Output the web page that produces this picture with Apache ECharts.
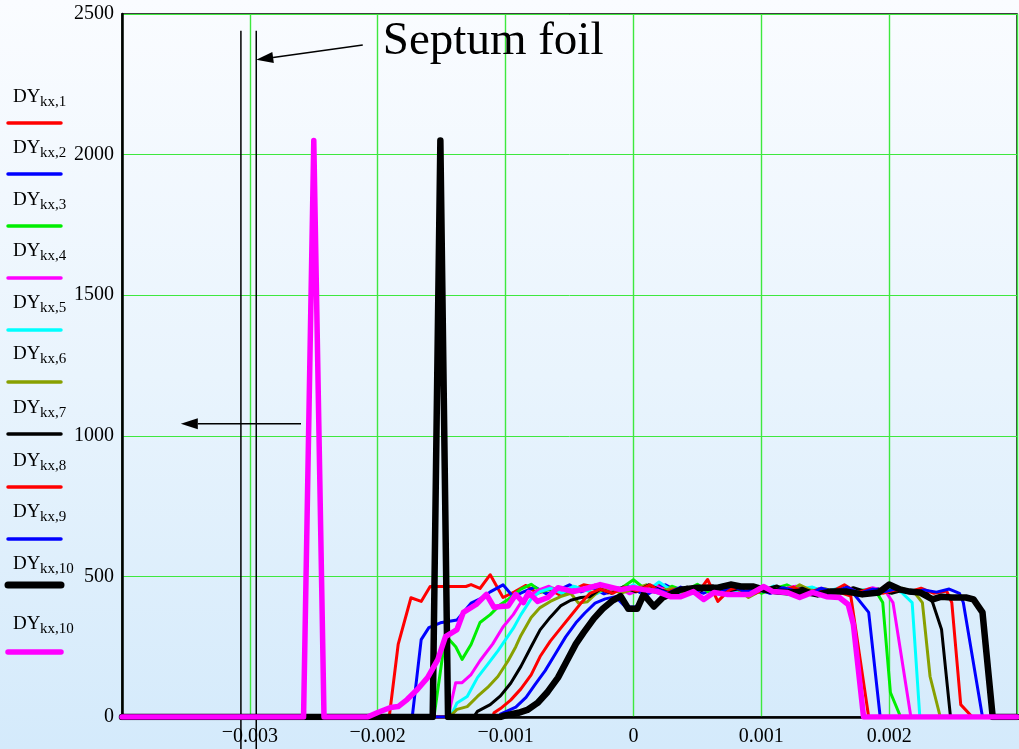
<!DOCTYPE html>
<html><head><meta charset="utf-8">
<script src="https://cdn.jsdelivr.net/npm/echarts@6/dist/echarts.min.js"></script>
<style>
html,body{margin:0;padding:0;width:1019px;height:749px;overflow:hidden;}
body{background:linear-gradient(to bottom,#fafcff 0%,#e9f4fd 50%,#d4eafb 100%);}
#c{width:1019px;height:749px;}
</style></head><body><div id="c"></div>
<script>
// ---------- DATA ----------
const seriesSubs = ['kx,1','kx,2','kx,3','kx,4','kx,5','kx,6','kx,7','kx,8','kx,9','kx,10','kx,10'];
const seriesColors = ['#ff0000','#0000ff','#00ee00','#ff00ff','#00ffff','#88a000','#000000','#ff0000','#0000ff','#000000','#ff00ff'];

const dy1 = [[-4e-3,0],[-1.91e-3,0],[-1.84e-3,258],[-1.74e-3,424],[-1.66e-3,411],[-1.59e-3,464],[-1.45e-3,464],[-1.31e-3,464],[-1.27e-3,471],[-1.20e-3,457],[-1.12e-3,506],[-1.02e-3,425],[-0.93e-3,445],[-0.84e-3,468],[-0.75e-3,440],[-0.66e-3,455],[-0.57e-3,432],[-0.48e-3,450],[-0.39e-3,470],[-0.30e-3,462],[-0.20e-3,441],[-0.10e-3,455],[0,465],[0.10e-3,448],[0.20e-3,470],[0.30e-3,452],[0.40e-3,440],[0.50e-3,462],[0.60e-3,468],[0.70e-3,445],[0.80e-3,458],[0.90e-3,440],[1.00e-3,452],[1.10e-3,463],[1.20e-3,445],[1.30e-3,458],[1.40e-3,436],[1.50e-3,450],[1.60e-3,445],[1.70e-3,430],[1.84e-3,0],[3e-3,0]];
const dy2 = [[-4e-3,0],[-1.73e-3,0],[-1.66e-3,275],[-1.60e-3,318],[-1.51e-3,335],[-1.38e-3,345],[-1.27e-3,405],[-1.20e-3,420],[-1.12e-3,445],[-1.02e-3,470],[-0.94e-3,428],[-0.86e-3,445],[-0.77e-3,462],[-0.68e-3,438],[-0.59e-3,450],[-0.50e-3,470],[-0.41e-3,445],[-0.32e-3,460],[-0.23e-3,438],[-0.14e-3,452],[-0.05e-3,467],[0.05e-3,443],[0.15e-3,458],[0.25e-3,470],[0.35e-3,446],[0.45e-3,455],[0.55e-3,440],[0.65e-3,462],[0.75e-3,448],[0.85e-3,466],[0.95e-3,442],[1.05e-3,457],[1.15e-3,444],[1.25e-3,462],[1.35e-3,448],[1.45e-3,455],[1.55e-3,438],[1.65e-3,452],[1.72e-3,440],[1.84e-3,372],[1.93e-3,0],[3e-3,0]];
const dy3 = [[-4e-3,0],[-1.56e-3,0],[-1.47e-3,290],[-1.39e-3,250],[-1.34e-3,205],[-1.27e-3,258],[-1.20e-3,336],[-1.12e-3,364],[-1.04e-3,400],[-0.98e-3,418],[-0.88e-3,455],[-0.80e-3,472],[-0.72e-3,445],[-0.63e-3,458],[-0.54e-3,440],[-0.45e-3,462],[-0.36e-3,450],[-0.27e-3,468],[-0.18e-3,445],[-0.09e-3,460],[0,488],[0.10e-3,452],[0.20e-3,440],[0.30e-3,465],[0.40e-3,448],[0.50e-3,472],[0.60e-3,440],[0.70e-3,455],[0.80e-3,445],[0.90e-3,462],[1.00e-3,440],[1.10e-3,456],[1.20e-3,470],[1.30e-3,448],[1.40e-3,460],[1.50e-3,442],[1.60e-3,455],[1.70e-3,446],[1.80e-3,452],[1.90e-3,445],[1.95e-3,407],[2.01e-3,87],[2.09e-3,0],[3e-3,0]];
const dy4 = [[-4e-3,0],[-1.45e-3,0],[-1.39e-3,122],[-1.34e-3,122],[-1.27e-3,151],[-1.20e-3,200],[-1.10e-3,260],[-1.02e-3,320],[-0.94e-3,364],[-0.88e-3,407],[-0.82e-3,428],[-0.75e-3,450],[-0.66e-3,465],[-0.57e-3,442],[-0.48e-3,458],[-0.39e-3,448],[-0.30e-3,470],[-0.21e-3,445],[-0.12e-3,460],[-0.03e-3,438],[0.07e-3,455],[0.17e-3,468],[0.27e-3,445],[0.37e-3,458],[0.47e-3,440],[0.57e-3,462],[0.67e-3,450],[0.77e-3,468],[0.87e-3,446],[0.97e-3,458],[1.07e-3,440],[1.17e-3,455],[1.27e-3,465],[1.37e-3,445],[1.47e-3,458],[1.57e-3,440],[1.67e-3,452],[1.77e-3,446],[1.87e-3,460],[1.97e-3,448],[2.03e-3,407],[2.17e-3,0],[3e-3,0]];
const dy5 = [[-4e-3,0],[-1.43e-3,0],[-1.38e-3,50],[-1.30e-3,73],[-1.22e-3,140],[-1.14e-3,187],[-1.06e-3,235],[-1.00e-3,275],[-0.94e-3,315],[-0.88e-3,364],[-0.80e-3,420],[-0.73e-3,446],[-0.65e-3,458],[-0.56e-3,440],[-0.47e-3,465],[-0.38e-3,452],[-0.29e-3,438],[-0.20e-3,460],[-0.10e-3,448],[0,470],[0.10e-3,445],[0.20e-3,480],[0.30e-3,450],[0.40e-3,438],[0.50e-3,460],[0.60e-3,452],[0.70e-3,470],[0.80e-3,443],[0.90e-3,458],[1.00e-3,446],[1.10e-3,466],[1.20e-3,440],[1.30e-3,455],[1.40e-3,462],[1.50e-3,445],[1.60e-3,458],[1.70e-3,440],[1.80e-3,452],[1.90e-3,446],[2.00e-3,460],[2.10e-3,442],[2.18e-3,407],[2.24e-3,0],[3e-3,0]];
const dy6 = [[-4e-3,0],[-1.44e-3,0],[-1.38e-3,27],[-1.30e-3,37],[-1.22e-3,73],[-1.14e-3,105],[-1.06e-3,144],[-0.98e-3,200],[-0.92e-3,250],[-0.88e-3,290],[-0.80e-3,354],[-0.73e-3,389],[-0.65e-3,411],[-0.57e-3,428],[-0.49e-3,440],[-0.43e-3,405],[-0.36e-3,410],[-0.28e-3,445],[-0.19e-3,460],[-0.10e-3,440],[0,455],[0.10e-3,470],[0.20e-3,445],[0.30e-3,458],[0.40e-3,440],[0.50e-3,450],[0.60e-3,466],[0.70e-3,444],[0.80e-3,460],[0.90e-3,425],[1.00e-3,450],[1.10e-3,462],[1.20e-3,440],[1.30e-3,470],[1.40e-3,448],[1.50e-3,456],[1.60e-3,440],[1.70e-3,450],[1.80e-3,438],[1.90e-3,452],[2.00e-3,444],[2.10e-3,458],[2.20e-3,442],[2.26e-3,407],[2.32e-3,144],[2.40e-3,0],[3e-3,0]];
const dy7 = [[-4e-3,0],[-1.25e-3,0],[-1.22e-3,20],[-1.12e-3,44],[-1.04e-3,75],[-0.96e-3,120],[-0.88e-3,180],[-0.80e-3,250],[-0.73e-3,310],[-0.65e-3,355],[-0.57e-3,395],[-0.49e-3,415],[-0.41e-3,425],[-0.34e-3,428],[-0.26e-3,455],[-0.17e-3,440],[-0.08e-3,462],[0.02e-3,445],[0.12e-3,470],[0.22e-3,450],[0.32e-3,440],[0.42e-3,462],[0.52e-3,448],[0.62e-3,466],[0.72e-3,444],[0.82e-3,456],[0.92e-3,440],[1.02e-3,452],[1.12e-3,466],[1.22e-3,445],[1.32e-3,458],[1.42e-3,440],[1.52e-3,452],[1.62e-3,444],[1.72e-3,460],[1.82e-3,446],[1.92e-3,455],[2.02e-3,440],[2.12e-3,452],[2.22e-3,444],[2.30e-3,440],[2.34e-3,407],[2.41e-3,311],[2.48e-3,0],[3e-3,0]];
const dy8 = [[-4e-3,0],[-1.10e-3,0],[-1.09e-3,15],[-1.04e-3,30],[-0.96e-3,60],[-0.88e-3,100],[-0.80e-3,150],[-0.73e-3,215],[-0.65e-3,270],[-0.57e-3,315],[-0.49e-3,360],[-0.41e-3,405],[-0.34e-3,440],[-0.26e-3,455],[-0.16e-3,440],[-0.07e-3,462],[0.03e-3,448],[0.13e-3,470],[0.23e-3,440],[0.33e-3,455],[0.43e-3,446],[0.50e-3,440],[0.58e-3,489],[0.66e-3,411],[0.75e-3,452],[0.85e-3,466],[0.95e-3,440],[1.05e-3,458],[1.15e-3,446],[1.25e-3,462],[1.35e-3,440],[1.45e-3,455],[1.55e-3,445],[1.65e-3,470],[1.75e-3,442],[1.85e-3,456],[1.95e-3,440],[2.05e-3,452],[2.15e-3,444],[2.25e-3,458],[2.35e-3,440],[2.45e-3,448],[2.49e-3,407],[2.56e-3,44],[2.65e-3,0],[3e-3,0]];
const dy9 = [[-4e-3,0],[-1.05e-3,0],[-1.04e-3,10],[-0.92e-3,35],[-0.84e-3,70],[-0.77e-3,115],[-0.69e-3,165],[-0.61e-3,225],[-0.53e-3,285],[-0.45e-3,335],[-0.38e-3,370],[-0.30e-3,405],[-0.22e-3,420],[-0.14e-3,428],[-0.06e-3,390],[0.02e-3,392],[0.09e-3,430],[0.18e-3,455],[0.27e-3,440],[0.37e-3,462],[0.47e-3,445],[0.57e-3,458],[0.67e-3,440],[0.77e-3,468],[0.87e-3,446],[0.97e-3,455],[1.07e-3,440],[1.17e-3,460],[1.27e-3,448],[1.37e-3,436],[1.47e-3,458],[1.57e-3,444],[1.67e-3,462],[1.77e-3,440],[1.87e-3,455],[1.97e-3,446],[2.07e-3,458],[2.17e-3,440],[2.27e-3,452],[2.37e-3,444],[2.47e-3,455],[2.55e-3,440],[2.58e-3,407],[2.73e-3,0],[3e-3,0]];
const dy10 = [[-4e-3,0],[-1.57e-3,0],[-1.51e-3,2050],[-1.45e-3,0],[-1.04e-3,0],[-1.01e-3,5],[-0.90e-3,15],[-0.83e-3,25],[-0.75e-3,50],[-0.67e-3,90],[-0.59e-3,140],[-0.52e-3,200],[-0.45e-3,260],[-0.39e-3,300],[-0.31e-3,350],[-0.24e-3,385],[-0.16e-3,415],[-0.10e-3,430],[-0.04e-3,385],[0.03e-3,385],[0.08e-3,436],[0.16e-3,393],[0.23e-3,425],[0.37e-3,453],[0.50e-3,460],[0.66e-3,460],[0.76e-3,471],[0.84e-3,464],[0.94e-3,464],[1.02e-3,453],[1.13e-3,446],[1.23e-3,443],[1.33e-3,446],[1.44e-3,436],[1.54e-3,446],[1.67e-3,446],[1.79e-3,436],[1.92e-3,443],[2.00e-3,471],[2.09e-3,453],[2.16e-3,446],[2.24e-3,443],[2.34e-3,418],[2.41e-3,428],[2.49e-3,425],[2.60e-3,425],[2.66e-3,418],[2.73e-3,372],[2.81e-3,0],[3e-3,0]];
const dy10b = [[-4e-3,0],[-2.58e-3,0],[-2.50e-3,2050],[-2.42e-3,0],[-2.08e-3,0],[-2.00e-3,16],[-1.90e-3,34],[-1.84e-3,37],[-1.77e-3,62],[-1.69e-3,98],[-1.61e-3,140],[-1.53e-3,204],[-1.47e-3,286],[-1.38e-3,311],[-1.33e-3,372],[-1.23e-3,400],[-1.15e-3,436],[-1.09e-3,390],[-1.04e-3,393],[-0.98e-3,395],[-0.92e-3,436],[-0.86e-3,407],[-0.82e-3,443],[-0.75e-3,411],[-0.67e-3,425],[-0.59e-3,460],[-0.47e-3,446],[-0.31e-3,464],[-0.26e-3,471],[-0.10e-3,453],[0,460],[0.08e-3,453],[0.19e-3,446],[0.29e-3,428],[0.37e-3,428],[0.47e-3,446],[0.55e-3,418],[0.63e-3,443],[0.73e-3,436],[0.84e-3,436],[0.91e-3,436],[1.02e-3,464],[1.09e-3,446],[1.20e-3,443],[1.30e-3,425],[1.40e-3,443],[1.51e-3,428],[1.61e-3,425],[1.68e-3,400],[1.72e-3,330],[1.80e-3,0],[3e-3,0]];

const seriesData = [dy1,dy2,dy3,dy4,dy5,dy6,dy7,dy8,dy9,dy10,dy10b];

const xTickValues = [-0.003,-0.002,-0.001,0,0.001,0.002];
const xTickLabels = ['\u22120.003','\u22120.002','\u22120.001','0','0.001','0.002'];
const yTickLabels = ['0','500','1000','1500','2000','2500'];

// annotation anchors (data coordinates)
const septumX = [-0.00307, -0.00295];
const septumTopY = 2440;
const septumText = 'Septum foil';
const septumTextPos = [-0.00196, 2400];
const arrow1 = {from: [-0.002117, 2390], to: [-0.00295, 2337]};
const arrow2 = {from: [-0.00260, 1043], to: [-0.00354, 1043]};

// ---------- STYLE ----------
const serif = '"Liberation Serif","Times New Roman",serif';
const gridGreen = '#3ee83e';
const lineWidths = [3,3,3,3,3,3,3,3,3,6.5,5.5];
const legendLabelY = [97,148,200,251,303,354,408,461,512,564,624];
const legendLineY = [123,174,226,278,330,382,434,487,539,585,652];
const legendLineW = [3.5,3.5,3.5,3.5,3.5,3.5,3.5,3.5,3.5,7,5.5];

const chart = echarts.init(document.getElementById('c'), null, {renderer:'canvas'});

const series = seriesData.map((d,i)=>({
  type:'line', name:'DY'+seriesSubs[i], data:d, symbol:'none', showSymbol:false,
  lineStyle:{color:seriesColors[i], width:lineWidths[i], join:'round', cap:'round'},
  animation:false, silent:true
}));

chart.setOption({
  backgroundColor:'transparent',
  animation:false,
  grid:{left:122,right:2,top:14,bottom:32,outerBoundsMode:'none',containLabel:false,show:true,borderColor:'#000',borderWidth:1.5,backgroundColor:'transparent'},
  xAxis:{type:'value',min:-0.004,max:0.003,interval:0.001,
    axisLine:{onZero:false,lineStyle:{color:'#000',width:2.5}},
    axisTick:{show:false},
    splitLine:{show:true,lineStyle:{color:gridGreen,width:1.4}},
    axisLabel:{showMinLabel:false,showMaxLabel:false,margin:6,color:'#000',
      formatter:function(v){
        let best=-1,bd=1;
        xTickValues.forEach((t,k)=>{const dd=Math.abs(t-v); if(dd<bd){bd=dd;best=k;}});
        if(best<0||bd>1e-6) return '';
        const s=xTickLabels[best];
        if(s.charAt(0)==='\u2212') return '{m|\u2212}{n|'+s.slice(1)+'}';
        return '{n|'+s+'}';
      },
      rich:{
        m:{fontFamily:serif,fontSize:20,color:'#000',verticalAlign:'top',lineHeight:20},
        n:{fontFamily:serif,fontSize:20,color:'#000',lineHeight:20,padding:[8,0,0,0]}
      }
    }
  },
  yAxis:{type:'value',min:0,max:2500,interval:500,
    axisLine:{show:true,onZero:false,lineStyle:{color:'#000',width:2.5}},
    axisTick:{show:false},
    splitLine:{show:true,lineStyle:{color:gridGreen,width:1}},
    axisLabel:{color:'#000',fontFamily:serif,fontSize:20,margin:8,padding:[5,0,0,0],
      formatter:function(v){const k=Math.round(v/500); return yTickLabels[k]||'';}}
  },
  series:series
});

function px(p){return chart.convertToPixel({gridIndex:0},p);}
const H = 749;
const g = [];
// legend
seriesSubs.forEach((sub,i)=>{
  g.push({type:'text',x:13,y:legendLabelY[i],style:{text:'DY',font:'19px '+serif,fill:'#000',verticalAlign:'middle',align:'left'}});
  g.push({type:'text',x:40,y:legendLabelY[i]+5,style:{text:sub,font:'15px '+serif,fill:'#000',verticalAlign:'middle',align:'left'}});
  g.push({type:'line',shape:{x1:8,y1:legendLineY[i],x2:61,y2:legendLineY[i]},style:{stroke:seriesColors[i],lineWidth:legendLineW[i],lineCap:'round'}});
});
// septum lines
septumX.forEach(x=>{
  const top = px([x,septumTopY]);
  g.push({type:'line',shape:{x1:top[0],y1:top[1],x2:top[0],y2:H},style:{stroke:'#000',lineWidth:1.5}});
});
function arrow(a){
  const p0=px(a.from), p1=px(a.to);
  const dx=p1[0]-p0[0], dy=p1[1]-p0[1], L=Math.hypot(dx,dy), ux=dx/L, uy=dy/L;
  const hl=17, hw=5.5;
  const bx=p1[0]-ux*hl, by=p1[1]-uy*hl;
  g.push({type:'line',shape:{x1:p0[0],y1:p0[1],x2:bx,y2:by},style:{stroke:'#000',lineWidth:1.5}});
  g.push({type:'polygon',shape:{points:[[p1[0],p1[1]],[bx-uy*hw,by+ux*hw],[bx+uy*hw,by-ux*hw]]},style:{fill:'#000'}});
}
arrow(arrow1); arrow(arrow2);
const tp = px(septumTextPos);
g.push({type:'text',x:tp[0],y:tp[1],style:{text:septumText,font:'47px '+serif,fill:'#000',verticalAlign:'middle',align:'left'}});
chart.setOption({graphic:g});
</script></body></html>
